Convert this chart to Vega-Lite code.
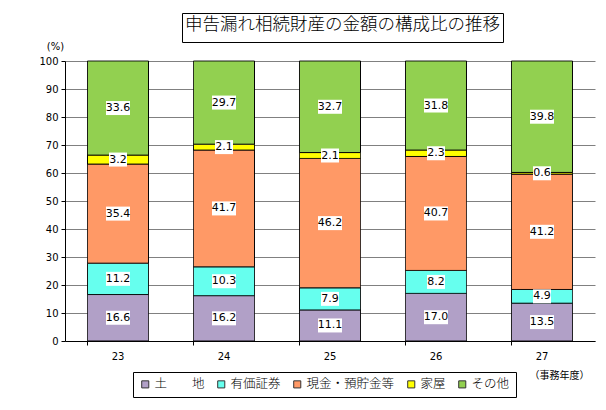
{
  "$schema": "https://vega.github.io/schema/vega-lite/v6.json",
  "width": 530,
  "height": 280,
  "autosize": "none",
  "padding": {"left": 65, "top": 61, "right": 11, "bottom": 69},
  "background": "white",
  "data": {
    "values": [
      {"year": "23", "cat": "土　　地", "value": 16.6},
      {"year": "23", "cat": "有価証券", "value": 11.2},
      {"year": "23", "cat": "現金・預貯金等", "value": 35.4},
      {"year": "23", "cat": "家屋", "value": 3.2},
      {"year": "23", "cat": "その他", "value": 33.6},
      {"year": "24", "cat": "土　　地", "value": 16.2},
      {"year": "24", "cat": "有価証券", "value": 10.3},
      {"year": "24", "cat": "現金・預貯金等", "value": 41.7},
      {"year": "24", "cat": "家屋", "value": 2.1},
      {"year": "24", "cat": "その他", "value": 29.7},
      {"year": "25", "cat": "土　　地", "value": 11.1},
      {"year": "25", "cat": "有価証券", "value": 7.9},
      {"year": "25", "cat": "現金・預貯金等", "value": 46.2},
      {"year": "25", "cat": "家屋", "value": 2.1},
      {"year": "25", "cat": "その他", "value": 32.7},
      {"year": "26", "cat": "土　　地", "value": 17.0},
      {"year": "26", "cat": "有価証券", "value": 8.2},
      {"year": "26", "cat": "現金・預貯金等", "value": 40.7},
      {"year": "26", "cat": "家屋", "value": 2.3},
      {"year": "26", "cat": "その他", "value": 31.8},
      {"year": "27", "cat": "土　　地", "value": 13.5},
      {"year": "27", "cat": "有価証券", "value": 4.9},
      {"year": "27", "cat": "現金・預貯金等", "value": 41.2},
      {"year": "27", "cat": "家屋", "value": 0.6},
      {"year": "27", "cat": "その他", "value": 39.8}
    ]
  },
  "transform": [
    {"calculate": "indexof(['土　　地','有価証券','現金・預貯金等','家屋','その他'], datum.cat)", "as": "ord"},
    {"stack": "value", "groupby": ["year"], "sort": [{"field": "ord", "order": "ascending"}], "as": ["v0", "v1"]},
    {"calculate": "(datum.v0 + datum.v1) / 2", "as": "mid"}
  ],
  "encoding": {
    "x": {
      "field": "year",
      "type": "ordinal",
      "scale": {"paddingInner": 0.4245, "paddingOuter": 0.2123},
      "axis": {
        "title": "（事務年度）",
        "titleX": 494,
        "titleY": 34,
        "titleAlign": "center",
        "titleBaseline": "middle",
        "titleFont": "Noto Sans CJK JP",
        "titleFontSize": 10,
        "titleFontWeight": "normal",
        "titleColor": "black",
        "labelAngle": 0,
        "labelFont": "DejaVu Sans",
        "labelFontSize": 10,
        "labelColor": "black",
        "labelPadding": 6,
        "bandPosition": 0,
        "tickSize": 4,
        "tickColor": "black",
        "domainColor": "black",
        "grid": false
      }
    }
  },
  "layer": [
    {
      "mark": {"type": "bar", "stroke": "black", "strokeWidth": 1},
      "encoding": {
        "y": {
          "field": "v0",
          "type": "quantitative",
          "scale": {"domain": [0, 100], "nice": false},
          "axis": {
            "values": [0, 10, 20, 30, 40, 50, 60, 70, 80, 90, 100],
            "labelOverlap": false,
            "title": "(%)",
            "titleAngle": 0,
            "titleX": -10,
            "titleY": -15,
            "titleAlign": "center",
            "titleBaseline": "middle",
            "titleFont": "DejaVu Sans",
            "titleFontSize": 10,
            "titleFontWeight": "normal",
            "titleColor": "black",
            "labelFont": "DejaVu Sans",
            "labelFontSize": 10,
            "labelColor": "black",
            "labelPadding": 3,
            "tickSize": 4,
            "tickColor": "black",
            "domainColor": "black",
            "grid": true,
            "gridColor": "#808080",
            "gridWidth": 1
          }
        },
        "y2": {"field": "v1"},
        "color": {
          "field": "cat",
          "type": "nominal",
          "scale": {
            "domain": ["土　　地", "有価証券", "現金・預貯金等", "家屋", "その他"],
            "range": ["#B1A0C7", "#66FFEE", "#FF9966", "#FFFF00", "#92D050"]
          },
          "legend": {
            "title": null,
            "orient": "none",
            "legendX": 68,
            "legendY": 311,
            "direction": "horizontal",
            "strokeColor": "black",
            "fillColor": "white",
            "padding": 6,
            "symbolType": "square",
            "symbolSize": 50,
            "symbolStrokeColor": "#333333",
            "symbolStrokeWidth": 1,
            "labelFont": "Noto Sans CJK JP",
            "labelFontSize": 12.5,
            "labelFontWeight": 300,
            "labelColor": "black",
            "labelOffset": 3,
            "columnSpacing": 14,
            "labelLimit": 200
          }
        },
        "strokeDash": {
          "datum": "t",
          "type": "nominal",
          "scale": {"range": [[1, 0]]},
          "legend": {
            "title": "申告漏れ相続財産の金額の構成比の推移",
            "orient": "none",
            "legendX": 117,
            "legendY": -48,
            "strokeColor": "black",
            "fillColor": "white",
            "padding": 3,
            "titleFont": "Noto Sans CJK JP",
            "titleFontSize": 17.5,
            "titleFontWeight": 300,
            "titleColor": "black",
            "titleLimit": 1000,
            "titlePadding": 0,
            "labelExpr": "''",
            "labelFontSize": 0,
            "symbolSize": 0,
            "symbolStrokeWidth": 0,
            "labelOffset": 0
          }
        }
      }
    },
    {
      "mark": {"type": "point", "filled": true, "fill": "white", "opacity": 1, "strokeWidth": 0, "size": 196},
      "encoding": {
        "y": {
          "field": "mid",
          "type": "quantitative",
          "scale": {"domain": [0, 100], "nice": false},
          "axis": {
            "values": [0, 10, 20, 30, 40, 50, 60, 70, 80, 90, 100],
            "labelOverlap": false,
            "title": "(%)",
            "titleAngle": 0,
            "titleX": -10,
            "titleY": -15,
            "titleAlign": "center",
            "titleBaseline": "middle",
            "titleFont": "DejaVu Sans",
            "titleFontSize": 10,
            "titleFontWeight": "normal",
            "titleColor": "black",
            "labelFont": "DejaVu Sans",
            "labelFontSize": 10,
            "labelColor": "black",
            "labelPadding": 3,
            "tickSize": 4,
            "tickColor": "black",
            "domainColor": "black",
            "grid": true,
            "gridColor": "#808080",
            "gridWidth": 1
          }
        },
        "shape": {
          "condition": {"test": "datum.value < 10", "value": "M-1.286,-1H1.286V1H-1.286Z"},
          "value": "M-1.714,-1H1.714V1H-1.714Z"
        }
      }
    },
    {
      "mark": {"type": "text", "font": "DejaVu Sans", "fontSize": 11, "color": "black", "baseline": "middle", "align": "center"},
      "encoding": {
        "y": {
          "field": "mid",
          "type": "quantitative",
          "scale": {"domain": [0, 100], "nice": false},
          "axis": {
            "values": [0, 10, 20, 30, 40, 50, 60, 70, 80, 90, 100],
            "labelOverlap": false,
            "title": "(%)",
            "titleAngle": 0,
            "titleX": -10,
            "titleY": -15,
            "titleAlign": "center",
            "titleBaseline": "middle",
            "titleFont": "DejaVu Sans",
            "titleFontSize": 10,
            "titleFontWeight": "normal",
            "titleColor": "black",
            "labelFont": "DejaVu Sans",
            "labelFontSize": 10,
            "labelColor": "black",
            "labelPadding": 3,
            "tickSize": 4,
            "tickColor": "black",
            "domainColor": "black",
            "grid": true,
            "gridColor": "#808080",
            "gridWidth": 1
          }
        },
        "text": {"field": "value", "type": "quantitative", "format": ".1f"}
      }
    }
  ],
  "config": {
    "view": {"stroke": null}
  }
}
